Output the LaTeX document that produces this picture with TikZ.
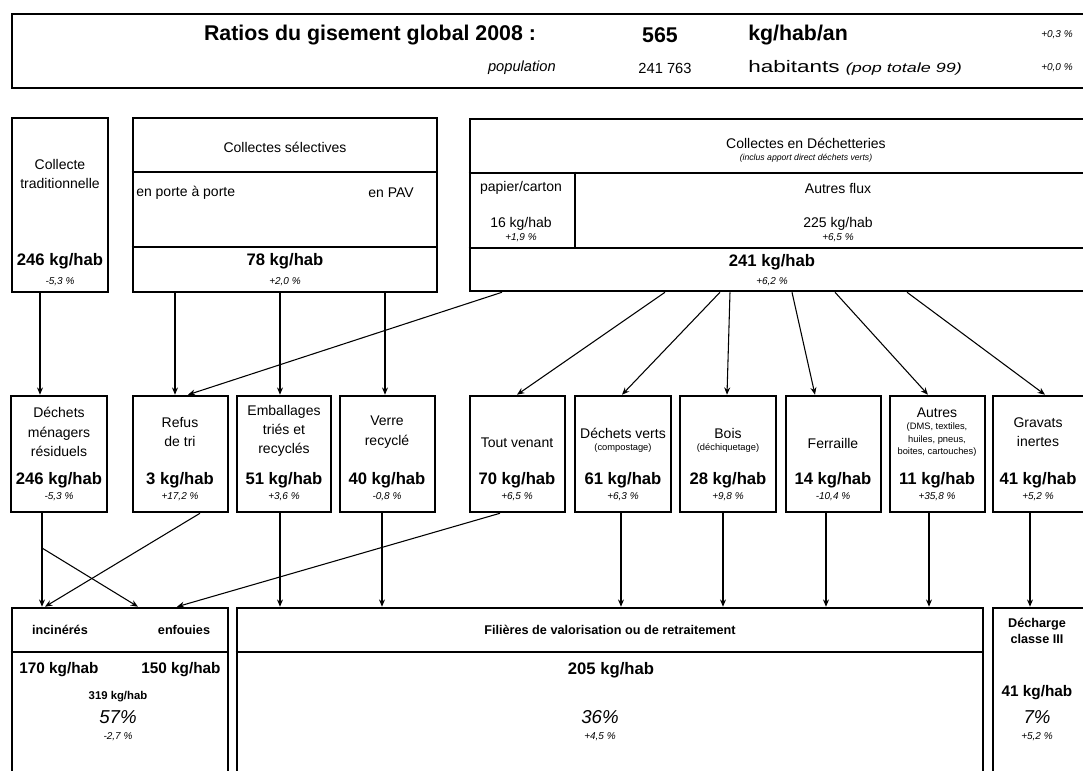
\documentclass[tikz,border=0pt]{standalone}
\usepackage{fontspec}
\setmainfont{Liberation Sans}
\newfontfamily\widefont[FakeStretch=1.35]{Liberation Sans}
\usetikzlibrary{fit,arrows.meta}
\begin{document}
\begin{tikzpicture}[x=0.75pt,y=-0.75pt,
  box/.style={draw,line width=1.9pt,inner sep=0pt},
  sep/.style={line width=1pt},
  arr/.style={line width=0.8pt,-{Stealth[length=5.5pt,width=4.5pt]}},
  lbl/.style={inner sep=0pt,align=center,font=\fontsize{10.5}{14.5}\selectfont},
  val/.style={inner sep=0pt,font=\bfseries\fontsize{12.5}{14}\selectfont},
  pct/.style={inner sep=0pt,font=\itshape\fontsize{7.5}{9}\selectfont},
  sml/.style={inner sep=0pt,align=center,font=\fontsize{7}{9.4}\selectfont},
  hdr/.style={inner sep=0pt,font=\bfseries\fontsize{16}{18}\selectfont},
  bl/.style={inner sep=0pt,align=center,font=\bfseries\fontsize{9.5}{12.5}\selectfont},
  bv/.style={inner sep=0pt,font=\bfseries\fontsize{11.5}{13}\selectfont},
  big/.style={inner sep=0pt,font=\itshape\fontsize{14}{16}\selectfont},
]
\useasboundingbox (0,0) rectangle (1083,771);
\clip (0,0) rectangle (1083,771);

% ---------- header ----------
\node[box,fit={(12,14) (1095,88)}] (head) {};
\node[hdr] (h1) at (370,35) {Ratios du gisement global 2008 :};
\node[hdr] (h2) at (660,35) {565};
\node[hdr,anchor=west] (h3) at (748,35) {kg/hab/an};
\node[pct] (h4) at (1057,35) {+0,3 \%};
\node[inner sep=0pt,anchor=east,font=\itshape\fontsize{11}{13}\selectfont] (h5) at (556,68) {population};
\node[inner sep=0pt,font=\fontsize{11}{13}\selectfont] (h6) at (665,68) {241 763};
\node[inner sep=0pt,anchor=west,font=\widefont\fontsize{12.5}{13}\selectfont] (h7) at (748,68) {habitants {\itshape\fontsize{10}{10}\selectfont (pop totale 99)}};
\node[pct] (h8) at (1057,68) {+0,0 \%};

% ---------- top row ----------
\node[box,fit={(12,118) (108,292)}] (tc) {};
\node[lbl] (tc1) at (60,174) {Collecte\\traditionnelle};
\node[val] (tc2) at (60,261) {246 kg/hab};
\node[pct] (tc3) at (60,282) {-5,3 \%};

\node[box,fit={(133,118) (437,292)}] (cs) {};
\draw[sep] (cs.west |- 0,172) -- (cs.east |- 0,172);
\draw[sep] (cs.west |- 0,247) -- (cs.east |- 0,247);
\node[lbl] (cs1) at (285,147) {Collectes sélectives};
\node[lbl,anchor=west] (cs2) at (136,193) {en porte à porte};
\node[lbl,anchor=east] (cs3) at (414,193) {en PAV};
\node[val] (cs4) at (285,261) {78 kg/hab};
\node[pct] (cs5) at (285,282) {+2,0 \%};

\node[box,fit={(470,119) (1095,291)}] (dc) {};
\draw[sep] (dc.west |- 0,173) -- (dc.east |- 0,173);
\draw[sep] (dc.west |- 0,248) -- (dc.east |- 0,248);
\draw[sep] (dc.north -| 575,0) ++(0,54) -- (575,248);
\node[lbl] (dc1) at (806,143) {Collectes en Déchetteries};
\node[inner sep=0pt,font=\itshape\fontsize{6.5}{8}\selectfont] (dc2) at (806,158) {(inclus apport direct déchets verts)};
\node[lbl] (dc3) at (521,188) {papier/carton};
\node[lbl] (dc4) at (838,188) {Autres flux};
\node[lbl] (dc5) at (521,224) {16 kg/hab};
\node[pct] (dc6) at (521,238) {+1,9 \%};
\node[lbl] (dc7) at (838,224) {225 kg/hab};
\node[pct] (dc8) at (838,238) {+6,5 \%};
\node[val] (dc9) at (772,262) {241 kg/hab};
\node[pct] (dc10) at (772,282) {+6,2 \%};

% ---------- middle row ----------
\node[box,fit={(11,396) (107,512)}] (dmr) {};
\node[box,fit={(133,396) (228,512)}] (refus) {};
\node[box,fit={(237,396) (331,512)}] (emb) {};
\node[box,fit={(340,396) (435,512)}] (verre) {};
\node[box,fit={(470,396) (565,512)}] (tv) {};
\node[box,fit={(575,396) (671,512)}] (dv) {};
\node[box,fit={(680,396) (776,512)}] (bois) {};
\node[box,fit={(786,396) (881,512)}] (fer) {};
\node[box,fit={(890,396) (985,512)}] (aut) {};
\node[box,fit={(993,396) (1095,512)}] (grav) {};

\node[lbl] (m1) at (59,432) {Déchets\\ménagers\\résiduels};
\node[lbl] (m2) at (180,432) {Refus\\de tri};
\node[lbl] (m3) at (284,431) {Emballages\\triés et\\recyclés};
\node[lbl] (m4) at (387,432) {Verre\\recyclé};
\node[lbl] (m5) at (517,443) {Tout venant};
\node[lbl] (m6) at (623,433) {Déchets verts};
\node[sml] (m6b) at (623,448) {(compostage)};
\node[lbl] (m7) at (728,433) {Bois};
\node[sml] (m7b) at (728,448) {(déchiquetage)};
\node[lbl] (m8) at (833,443) {Ferraille};
\node[lbl] (m9) at (937,413) {Autres};
\node[sml] (m9b) at (937,440) {(DMS, textiles,\\huiles, pneus,\\boites, cartouches)};
\node[lbl] (m10) at (1038,432) {Gravats\\inertes};

\node[val] (v1) at (59,480) {246 kg/hab};
\node[val] (v2) at (180,480) {3 kg/hab};
\node[val] (v3) at (284,480) {51 kg/hab};
\node[val] (v4) at (387,480) {40 kg/hab};
\node[val] (v5) at (517,480) {70 kg/hab};
\node[val] (v6) at (623,480) {61 kg/hab};
\node[val] (v7) at (728,480) {28 kg/hab};
\node[val] (v8) at (833,480) {14 kg/hab};
\node[val] (v9) at (937,480) {11 kg/hab};
\node[val] (v10) at (1038,480) {41 kg/hab};

\node[pct] (p1) at (59,497) {-5,3 \%};
\node[pct] (p2) at (180,497) {+17,2 \%};
\node[pct] (p3) at (284,497) {+3,6 \%};
\node[pct] (p4) at (387,497) {-0,8 \%};
\node[pct] (p5) at (517,497) {+6,5 \%};
\node[pct] (p6) at (623,497) {+6,3 \%};
\node[pct] (p7) at (728,497) {+9,8 \%};
\node[pct] (p8) at (833,497) {-10,4 \%};
\node[pct] (p9) at (937,497) {+35,8 \%};
\node[pct] (p10) at (1038,497) {+5,2 \%};

% ---------- bottom row ----------
\node[box,fit={(12,608) (228,795)}] (ie) {};
\node[box,fit={(237,608) (983,795)}] (fil) {};
\node[box,fit={(993,608) (1095,795)}] (d3) {};
\draw[sep] (ie.west |- 0,652) -- (ie.east |- 0,652);
\draw[sep] (fil.west |- 0,652) -- (fil.east |- 0,652);

\node[bl] (b1) at (60,630) {incinérés};
\node[bl] (b2) at (184,630) {enfouies};
\node[bv] (b3) at (59,670) {170 kg/hab};
\node[bv] (b4) at (181,670) {150 kg/hab};
\node[inner sep=0pt,font=\bfseries\fontsize{8.5}{10}\selectfont] (b5) at (118,697) {319 kg/hab};
\node[big] (b6) at (118,717) {57\%};
\node[pct] (b7) at (118,737) {-2,7 \%};

\node[bl] (f1) at (610,630) {Filières de valorisation ou de retraitement};
\node[val] (f2) at (611,670) {205 kg/hab};
\node[big] (f3) at (600,717) {36\%};
\node[pct] (f4) at (600,737) {+4,5 \%};

\node[bl] (g1) at (1037,631) {Décharge\\classe III};
\node[bv] (g2) at (1037,693) {41 kg/hab};
\node[big] (g3) at (1037,717) {7\%};
\node[pct] (g4) at (1037,737) {+5,2 \%};

% ---------- connectors top -> middle ----------
\draw[arr] (tc.south -| 40,0) -- (dmr.north -| 40,0);
\draw[arr] (cs.south -| 175,0) -- (refus.north -| 175,0);
\draw[arr] (cs.south -| 280,0) -- (emb.north -| 280,0);
\draw[arr] (cs.south -| 385,0) -- (verre.north -| 385,0);
\draw[arr] (dc.south -| 502,0) -- (refus.north -| 188,0);
\draw[arr] (dc.south -| 665,0) -- (tv.north -| 517,0);
\draw[arr] (dc.south -| 720,0) -- (dv.north -| 622,0);
\draw[arr] (dc.south -| 730,0) -- (bois.north -| 727,0);
\draw[arr] (dc.south -| 792,0) -- (fer.north -| 815,0);
\draw[arr] (dc.south -| 835,0) -- (aut.north -| 928,0);
\draw[arr] (dc.south -| 907,0) -- (grav.north -| 1045,0);

% ---------- connectors middle -> bottom ----------
\coordinate (br) at (42,548);
\draw[arr] (dmr.south -| 42,0) -- (ie.north -| 42,0);
\draw[arr] (br) -- (ie.north -| 138,0);
\draw[arr] (refus.south -| 200,0) -- (ie.north -| 45,0);
\draw[arr] (tv.south -| 500,0) -- (ie.north -| 177,0);
\draw[arr] (emb.south -| 280,0) -- (fil.north -| 280,0);
\draw[arr] (verre.south -| 382,0) -- (fil.north -| 382,0);
\draw[arr] (dv.south -| 621,0) -- (fil.north -| 621,0);
\draw[arr] (bois.south -| 723,0) -- (fil.north -| 723,0);
\draw[arr] (fer.south -| 826,0) -- (fil.north -| 826,0);
\draw[arr] (aut.south -| 929,0) -- (fil.north -| 929,0);
\draw[arr] (grav.south -| 1030,0) -- (d3.north -| 1030,0);
\end{tikzpicture}
\end{document}
